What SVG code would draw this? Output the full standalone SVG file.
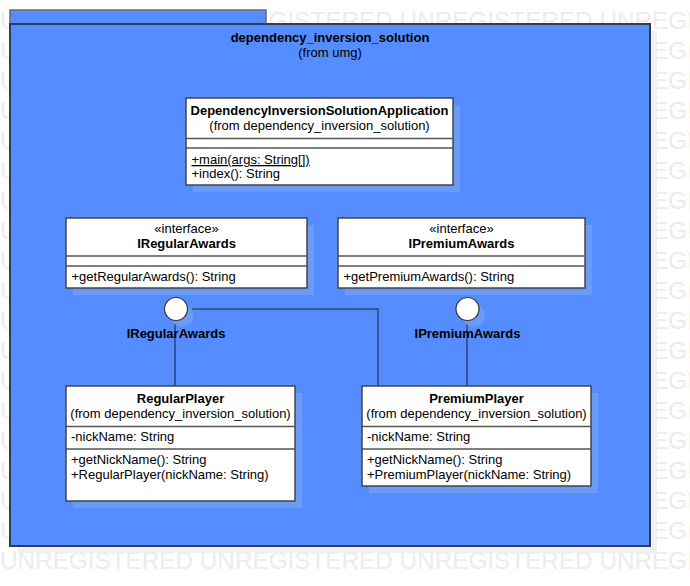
<svg xmlns="http://www.w3.org/2000/svg" width="690" height="586" viewBox="0 0 690 586">
<style>
.wm{font-family:"Liberation Sans",Arial,sans-serif;font-size:24.3px;fill:#ececec}
.t{font-family:"Liberation Sans",Arial,sans-serif;font-size:13px;fill:#000}
.b{font-weight:bold}
.m{text-anchor:middle}
.box{fill:#fff;stroke:#444;stroke-width:1.5}
.div{stroke:#555;stroke-width:1.5;fill:none}
.sh{fill:#6b9bf2}
.conn{fill:none;stroke:#2f4a7a;stroke-width:1.6}
</style>
<rect width="690" height="586" fill="#fff"/>
<g id="watermark">
<text class="wm" x="0" y="29">UNREGISTERED UNREGISTERED UNREGISTERED UNREGISTERED</text>
<text class="wm" x="0" y="59">UNREGISTERED UNREGISTERED UNREGISTERED UNREGISTERED</text>
<text class="wm" x="0" y="89">UNREGISTERED UNREGISTERED UNREGISTERED UNREGISTERED</text>
<text class="wm" x="0" y="119">UNREGISTERED UNREGISTERED UNREGISTERED UNREGISTERED</text>
<text class="wm" x="0" y="149">UNREGISTERED UNREGISTERED UNREGISTERED UNREGISTERED</text>
<text class="wm" x="0" y="179">UNREGISTERED UNREGISTERED UNREGISTERED UNREGISTERED</text>
<text class="wm" x="0" y="209">UNREGISTERED UNREGISTERED UNREGISTERED UNREGISTERED</text>
<text class="wm" x="0" y="239">UNREGISTERED UNREGISTERED UNREGISTERED UNREGISTERED</text>
<text class="wm" x="0" y="269">UNREGISTERED UNREGISTERED UNREGISTERED UNREGISTERED</text>
<text class="wm" x="0" y="299">UNREGISTERED UNREGISTERED UNREGISTERED UNREGISTERED</text>
<text class="wm" x="0" y="329">UNREGISTERED UNREGISTERED UNREGISTERED UNREGISTERED</text>
<text class="wm" x="0" y="359">UNREGISTERED UNREGISTERED UNREGISTERED UNREGISTERED</text>
<text class="wm" x="0" y="389">UNREGISTERED UNREGISTERED UNREGISTERED UNREGISTERED</text>
<text class="wm" x="0" y="419">UNREGISTERED UNREGISTERED UNREGISTERED UNREGISTERED</text>
<text class="wm" x="0" y="449">UNREGISTERED UNREGISTERED UNREGISTERED UNREGISTERED</text>
<text class="wm" x="0" y="479">UNREGISTERED UNREGISTERED UNREGISTERED UNREGISTERED</text>
<text class="wm" x="0" y="509">UNREGISTERED UNREGISTERED UNREGISTERED UNREGISTERED</text>
<text class="wm" x="0" y="539">UNREGISTERED UNREGISTERED UNREGISTERED UNREGISTERED</text>
<text class="wm" x="0" y="569">UNREGISTERED UNREGISTERED UNREGISTERED UNREGISTERED</text>
</g>
<g id="package">
<rect x="17" y="31" width="640" height="522" fill="#f0f0f0"/>
<rect x="10" y="10" width="256" height="14" fill="#558cff" stroke="#6a6a6a" stroke-width="1.5"/>
<rect x="10" y="24" width="640" height="522" fill="#558cff" stroke="#2e3b56" stroke-width="2"/>
<text class="t b m" x="330" y="42">dependency_inversion_solution</text>
<text class="t m" x="330" y="57">(from umg)</text>
</g>
<g id="connectors">
<path class="conn" d="M175,320.5 V386"/>
<path class="conn" d="M187.5,309 H378 V386"/>
<path class="conn" d="M467,320.5 V386"/>
</g>
<g id="DependencyInversionSolutionApplication">
<rect class="sh" x="193" y="105" width="267" height="87"/>
<rect class="box" x="186" y="98" width="267" height="87"/>
<line class="div" x1="186" y1="138.5" x2="453" y2="138.5"/>
<line class="div" x1="186" y1="148" x2="453" y2="148"/>
<text class="t b m" x="319.5" y="115">DependencyInversionSolutionApplication</text>
<text class="t m" x="319.5" y="129.5">(from dependency_inversion_solution)</text>
<text class="t" x="191.5" y="164" text-decoration="underline">+main(args: String[])</text>
<text class="t" x="191.5" y="177.5">+index(): String</text>
</g>
<g id="IRegularAwards">
<rect class="sh" x="73" y="225" width="241" height="70"/>
<rect class="box" x="66" y="218" width="241" height="70"/>
<line class="div" x1="66" y1="256" x2="307" y2="256"/>
<line class="div" x1="66" y1="266" x2="307" y2="266"/>
<text class="t m" x="186.5" y="232.5">«interface»</text>
<text class="t b m" x="186.5" y="247.5">IRegularAwards</text>
<text class="t" x="71.5" y="281">+getRegularAwards(): String</text>
</g>
<g id="IPremiumAwards">
<rect class="sh" x="345" y="225" width="247" height="70"/>
<rect class="box" x="338" y="218" width="247" height="70"/>
<line class="div" x1="338" y1="256" x2="585" y2="256"/>
<line class="div" x1="338" y1="266" x2="585" y2="266"/>
<text class="t m" x="461.5" y="232.5">«interface»</text>
<text class="t b m" x="461.5" y="247.5">IPremiumAwards</text>
<text class="t" x="343.5" y="281">+getPremiumAwards(): String</text>
</g>
<g id="IRegularAwards-lollipop">
<circle class="sh" cx="182" cy="315" r="11.5"/>
<circle cx="176" cy="309" r="11.5" fill="#fff" stroke="#333" stroke-width="1.2"/>
<text class="t b m" x="176" y="338">IRegularAwards</text>
</g>
<g id="IPremiumAwards-lollipop">
<circle class="sh" cx="473.5" cy="315" r="11.5"/>
<circle cx="467.5" cy="309" r="11.5" fill="#fff" stroke="#333" stroke-width="1.2"/>
<text class="t b m" x="467.5" y="338">IPremiumAwards</text>
</g>
<g id="RegularPlayer">
<rect class="sh" x="73" y="393" width="229" height="115"/>
<rect class="box" x="66" y="386" width="229" height="115"/>
<line class="div" x1="66" y1="426.5" x2="295" y2="426.5"/>
<line class="div" x1="66" y1="449" x2="295" y2="449"/>
<text class="t b m" x="180.5" y="403">RegularPlayer</text>
<text class="t m" x="180.5" y="417.5">(from dependency_inversion_solution)</text>
<text class="t" x="71" y="441">-nickName: String</text>
<text class="t" x="71" y="463.5">+getNickName(): String</text>
<text class="t" x="71" y="478.5">+RegularPlayer(nickName: String)</text>
</g>
<g id="PremiumPlayer">
<rect class="sh" x="369" y="393" width="229" height="100"/>
<rect class="box" x="362" y="386" width="229" height="100"/>
<line class="div" x1="362" y1="426.5" x2="591" y2="426.5"/>
<line class="div" x1="362" y1="449" x2="591" y2="449"/>
<text class="t b m" x="476.5" y="403">PremiumPlayer</text>
<text class="t m" x="476.5" y="417.5">(from dependency_inversion_solution)</text>
<text class="t" x="367" y="441">-nickName: String</text>
<text class="t" x="367" y="463.5">+getNickName(): String</text>
<text class="t" x="367" y="478.5">+PremiumPlayer(nickName: String)</text>
</g>
</svg>
